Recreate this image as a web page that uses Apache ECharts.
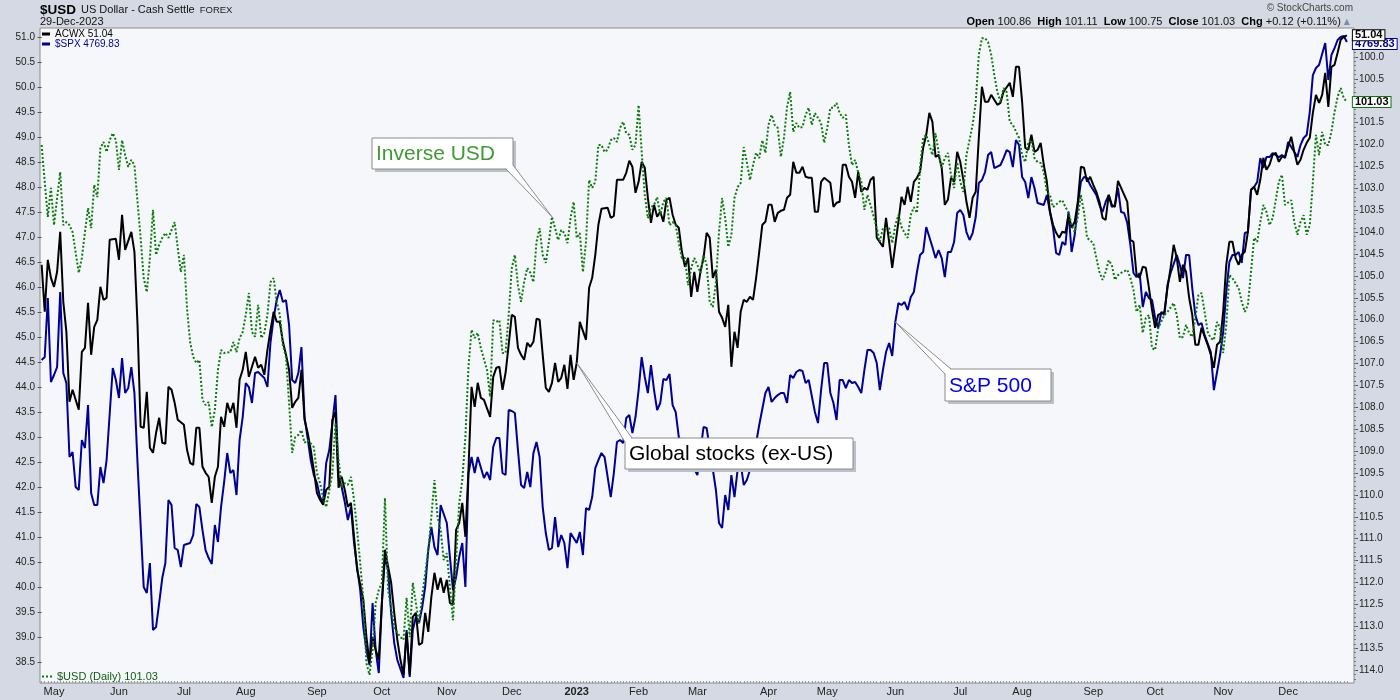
<!DOCTYPE html>
<html>
<head>
<meta charset="utf-8">
<title>$USD vs ACWX vs $SPX</title>
<script src="https://cdn.jsdelivr.net/npm/echarts@6.0.0/dist/echarts.min.js"></script>
<style>
  html, body { margin: 0; padding: 0; background: #d5d9e3; }
  #main { width: 1400px; height: 700px; }
</style>
</head>
<body>
<div id="main"></div>
<script>
// x = trading day (0 = 26-Apr-2022 ... 422 = 29-Dec-2023)
var acwx = [
  [0,46.45],[1,45.51],[2,46.55],[3,46.19],[4,46.01],[5,46.31],[6,47.11],[7,45.71],[8,45.11],[9,43.71],[10,43.95],[11,43.75],[12,43.55],[13,44.71],[14,44.79],[15,45.69],[16,44.65],[17,45.21],[18,45.35],[19,46.01],[20,45.75],[21,45.79],[22,46.95],[24,46.97],[25,46.55],[26,47.45],[27,46.75],[29,47.11],[30,46.71],[31,45.25],[32,43.21],[33,43.19],[34,43.91],[35,42.79],[36,42.69],[37,43.09],[38,43.39],[39,42.89],[40,42.87],[41,44.01],[42,43.95],[43,43.69],[44,43.35],
  [46,43.25],[47,42.75],[48,42.49],[49,42.45],[50,43.19],[51,43.19],[52,42.41],[53,42.29],[54,42.21],[55,41.69],[56,42.21],[57,42.41],[58,43.41],[59,43.21],[60,43.69],[61,43.49],[62,43.69],[63,43.19],[64,44.15],[65,44.35],[66,44.71],[67,44.21],[68,44.41],[69,44.61],[70,44.39],[71,44.45],[72,44.25],[73,44.75],[74,45.15],[75,45.51],[76,45.31],[77,45.31],[78,44.91],[79,44.65],[80,44.35],[81,43.59],[82,43.71],[83,43.79],[84,44.35],[85,43.35],[86,43.09],[87,42.75],[88,42.35],[89,41.89],[90,41.75],[91,41.65],[92,41.95],[93,42.01],[94,43.35],[95,43.51],[96,41.99],[97,42.21],[98,41.95],[99,41.61],[100,41.69],[101,41.01],[102,40.35],
  [104,39.75],[105,39.01],[106,38.49],[107,39.01],[108,38.75],[109,38.55],[110,39.69],[111,40.75],[113,40.09],[114,39.49],[115,38.95],[116,38.55],[117,38.25],[118,39.09],[119,38.25],[120,39.41],[121,39.49],[122,38.85],[123,38.89],[124,39.49],[125,39.11],[126,39.81],[127,40.29],[128,39.95],[129,40.19],[130,39.89],[131,40.15],[132,39.69],[133,39.65],[134,41.15],[135,41.29],[136,41.69],[137,41.01],[138,42.35],[139,44.01],[140,43.61],[141,44.09],
  [142,43.79],[143,43.75],[145,43.41],[146,44.21],[147,44.39],[148,44.41],[149,43.95],[150,44.29],[151,44.85],[152,45.45],[153,45.41],[154,44.79],[155,44.65],[156,44.55],[157,44.89],[158,44.81],[159,44.91],[160,45.37],[161,45.35],[162,44.65],[163,43.99],[164,43.91],[165,44.09],[166,44.49],[167,44.11],[168,44.19],[169,44.45],[170,43.97],[171,44.65],[172,44.15],[173,44.49],[174,45.31],[176,44.95],[177,45.99],[178,46.19],[179,46.65],[180,47.25],[181,47.57],[183,47.59],[184,47.39],[185,47.43],[186,48.15],[188,48.15],[189,48.29],[190,48.53],[191,48.41],[192,47.89],[193,48.11],[194,48.51],[195,48.39],[196,47.79],[197,47.29],[198,47.65],[199,47.41],[200,47.51],
  [201,47.31],[202,47.75],[203,47.79],[204,47.45],[205,47.25],[206,47.19],[207,46.71],[208,46.41],[209,46.59],[210,45.81],[211,46.31],[212,45.91],[213,46.31],[214,46.59],[215,47.09],[216,46.99],[217,46.19],[218,46.35],[219,45.51],[220,45.39],[221,45.21],[222,45.65],[223,44.41],[224,45.11],[225,44.79],[226,45.51],[227,45.75],[228,45.71],[229,45.81],[230,45.75],[231,46.19],[232,46.71],[233,47.25],[234,47.31],[235,47.65],[236,47.65],[237,47.31],[238,47.49],[239,47.53],[240,47.55],[241,47.79],[242,47.85],[243,48.51],[244,48.29],[245,48.29],[246,48.41],[247,48.21],[248,48.19],[249,48.19],[250,47.51],[251,47.51],[252,48.11],[253,48.19],[255,48.09],[256,47.61],[257,47.69],[258,47.71],[259,48.45],[260,48.45],[261,48.21],[262,48.11],[263,47.79],[264,48.31],[265,47.91],[266,47.99],[267,47.95],[268,48.15],[269,48.21],[270,46.99],[272,46.81],[273,47.39],[274,46.91],[275,46.39],[277,47.31],[278,47.81],[279,47.65],[280,48.01],[281,47.71],[282,48.11],[283,48.19],
  [284,48.31],[285,48.79],[286,49.05],[287,49.49],[288,49.31],[289,48.61],[290,48.65],[291,48.39],[292,47.65],[293,47.75],[294,48.19],[295,48.11],[296,48.71],[297,48.51],[298,48.15],[299,47.71],[300,47.39],[301,47.79],[302,47.91],[303,48.99],[304,50.01],[305,49.71],[306,49.71],[307,49.85],[309,49.65],[310,49.69],[311,49.91],[313,50.09],[314,49.81],[315,50.41],[316,50.41],[317,49.71],[318,48.79],[319,48.75],[320,49.05],[321,48.71],[322,48.75],[323,48.89],[324,48.45],[325,48.11],[326,47.51],[327,47.25],[328,47.09],[329,46.99],[330,47.11],[331,47.09],[332,47.45],[333,47.19],[334,47.31],[335,47.71],[336,48.41],[337,48.39],[338,48.11],[339,48.21],[340,48.05],[341,47.91],[342,47.71],[343,47.39],[344,47.35],[345,47.85],[346,47.65],[347,47.61],[348,48.13],[349,47.99],[350,47.85],[351,47.71],[352,46.95],[353,46.91],[354,46.25],[355,46.19],[356,46.41],[357,46.39],[358,45.99],[359,45.55],[360,45.19],[361,45.45],[363,45.51],[364,45.99],[365,46.39],[366,46.85],[367,46.59],[368,46.11],[369,46.45],[370,46.31],[371,45.79],[372,45.45],[373,44.85],[374,44.85],[375,45.19],[377,44.85],[378,44.65],[379,44.39],[380,44.85],[381,44.91],[382,45.51],
  [383,46.45],[384,46.91],[385,46.91],[386,46.59],[387,46.45],[388,46.65],[389,46.71],[390,47.11],[391,47.95],[392,48.01],[393,47.85],[394,48.15],[395,48.59],[396,48.35],[397,48.45],[398,48.65],[399,48.69],[400,48.51],[401,48.61],[402,48.61],[404,49.01],[405,48.71],[406,48.45],[407,48.55],[408,48.75],[409,48.89],[410,48.99],[411,49.49],[412,49.85],[413,49.69],[414,49.85],[415,50.29],[416,49.61],[417,50.41],[418,50.45],[419,50.69],[420,50.95],[421,51.01],[422,51.04]
];

var spx = [
  [0,4171.5],[1,4177.2],[2,4288.2],[3,4130.1],[4,4143.3],[5,4158.3],[6,4299.5],[7,4147.0],[8,4128.2],[9,3989.0],[10,3998.4],[11,3932.5],[12,3926.9],[13,4021.0],[14,4005.9],[15,4086.8],[16,3921.3],[17,3898.7],[18,3898.7],[19,3970.2],[20,3940.1],[21,3983.3],[23,4156.5],[24,4133.9],[25,4100.0],[26,4175.3],[27,4109.4],[28,4118.8],[29,4158.3],[30,4109.4],[31,3977.7],[33,3744.4],[34,3733.1],[35,3789.5],[36,3663.5],[37,3669.2],[38,3714.3],[39,3761.3],[40,3789.5],[41,3908.1],[42,3898.7],[43,3817.8],[44,3814.0],[45,3782.0],[46,3823.4],[48,3827.2],[49,3842.2],[50,3900.5],
  [51,3894.9],[52,3851.6],[53,3814.0],[54,3798.9],[55,3787.7],[56,3861.0],[57,3829.1],[58,3894.9],[59,3941.9],[60,3996.5],[61,3958.9],[62,3964.5],[63,3917.5],[64,4021.0],[65,4064.2],[66,4128.2],[67,4120.7],[68,4090.6],[69,4147.0],[70,4148.9],[71,4143.3],[72,4137.6],[73,4120.7],[74,4205.4],[75,4250.5],[76,4284.4],[77,4303.2],[78,4280.6],[79,4284.4],[80,4237.3],[81,4133.8],[82,4128.2],[83,4147.0],[84,4195.9],[85,4064.2],[86,4024.7],[87,3983.3],[88,3955.1],[89,3940.1],[90,3913.7],[91,3902.4],[92,3977.7],[93,4002.1],[94,4052.9],[95,4105.6],[96,3951.3],[97,3932.5],[98,3904.3],[99,3870.4],[100,3895.0],
  [101,3827.2],[102,3782.0],[103,3738.7],[104,3669.1],[105,3625.8],[106,3597.6],[107,3714.3],[108,3625.8],[109,3582.6],[110,3714.3],[111,3800.8],[112,3776.4],[113,3695.5],[114,3639.0],[115,3607.0],[117,3573.2],[118,3663.5],[119,3575.0],[120,3663.5],[121,3687.9],[122,3676.6],[123,3704.9],[124,3744.4],[125,3814.0],[126,3857.3],[127,3819.6],[128,3804.6],[129,3898.7],[131,3864.8],[132,3800.8],[133,3738.7],[134,3763.2],[135,3800.8],[136,3827.2],[137,3744.4],[138,3958.9],[139,3989.0],[140,3958.9],[141,3989.0],
  [143,3949.5],[144,3960.8],[145,3945.7],[146,4007.8],[147,4024.7],[148,4024.7],[149,3958.9],[150,3955.1],[151,4077.4],[152,4075.6],[153,4071.8],[154,4002.1],[155,3936.3],[156,3930.7],[157,3960.8],[158,3932.5],[159,3996.5],[160,4017.2],[161,3989.0],[162,3894.9],[163,3846.0],[164,3814.0],[165,3817.8],[166,3876.1],[167,3819.6],[168,3842.2],[169,3827.2],[170,3780.1],[171,3846.0],[172,3836.6],[173,3827.2],[174,3847.9],[175,3804.6],[176,3893.0],[177,3889.3],[178,3913.7],[179,3968.3],[180,3983.3],[181,3996.5],[182,3989.0],[183,3951.3],[184,3913.7],[185,3958.9],[186,4017.2],[187,4021.0],[188,4015.3],[189,4062.4],[190,4068.0],[191,4034.1],[192,4064.2],[193,4115.0],[194,4177.1],[195,4139.5],[196,4109.4],[197,4162.1],[198,4115.0],[199,4077.4],[200,4090.6],
  [201,4135.7],[202,4133.8],[203,4145.1],[204,4086.8],[205,4073.6],[206,4026.6],[212,3955.1],[214,4045.4],[215,4043.6],[218,3926.9],[219,3864.8],[220,3855.4],[221,3917.5],[222,3889.3],[223,3955.1],[224,3913.7],[225,3964.5],[226,3977.7],[227,3936.3],[228,3945.7],[229,3964.5],[230,3989.0],[231,4015.3],[232,4049.2],[234,4109.4],[235,4120.7],[236,4092.5],[237,4100.0],[238,4105.6],[239,4109.4],[240,4109.4],[241,4090.6],[242,4143.3],[243,4137.6],[244,4148.9],[245,4152.7],[246,4150.8],[247,4128.2],[248,4133.8],[250,4073.6],[251,4052.9],[252,4115.0],[253,4165.8],[254,4165.8],[255,4109.4],[256,4090.6],[257,4058.6],[258,4133.8],[259,4133.8],[260,4118.8],[261,4133.8],[262,4128.2],[263,4130.1],[264,4120.7],[265,4109.4],[266,4152.7],[267,4190.3],[268,4190.3],[269,4184.7],[270,4165.8],[271,4115.0],[272,4152.7],[273,4186.5],[274,4203.5],[275,4179.0],[276,4243.0],[277,4278.7],[278,4275.0],[279,4280.6],[280,4265.6],[281,4290.0],[282,4299.5],[283,4337.1],
  [284,4369.0],[285,4374.7],[286,4421.7],[287,4402.9],[288,4384.1],[289,4363.4],[290,4378.4],[291,4363.4],[292,4327.6],[293,4374.7],[294,4374.7],[295,4393.5],[296,4448.1],[297,4453.7],[298,4444.3],[299,4412.3],[300,4397.3],[301,4410.4],[302,4440.5],[303,4504.5],[304,4510.2],[305,4525.2],[306,4557.2],[307,4562.8],[308,4532.7],[310,4538.4],[311,4551.5],[312,4566.6],[313,4562.8],[314,4534.6],[315,4585.4],[316,4576.0],[317,4515.8],[318,4506.4],[319,4476.3],[320,4515.8],[321,4495.1],[322,4466.9],[324,4463.1],[325,4481.9],[326,4449.9],[327,4419.8],[328,4372.8],[329,4369.1],[330,4393.5],[331,4387.9],[332,4449.9],[333,4374.7],[334,4406.7],[335,4463.1],[336,4506.4],[337,4515.8],[338,4513.9],[339,4500.7],[341,4481.9],[342,4463.1],[343,4449.9],[344,4468.8],[345,4481.9],[346,4459.4],[347,4463.1],[348,4495.1],[349,4449.9],[350,4448.1],
  [351,4429.2],[352,4387.9],[353,4335.2],[354,4327.6],[355,4335.2],[356,4271.2],[357,4299.4],[358,4288.1],[359,4284.4],[360,4250.5],[361,4231.7],[362,4261.8],[363,4256.2],[364,4312.6],[365,4335.2],[367,4369.1],[368,4350.2],[369,4325.8],[370,4369.1],[371,4369.1],[372,4307.0],[373,4256.2],[374,4237.3],[375,4241.1],[376,4218.5],[378,4186.5],[379,4115.0],[381,4180.9],[382,4224.2],[383,4299.4],[384,4355.9],[385,4369.1],[386,4369.1],[387,4374.7],[388,4354.0],[389,4410.4],[390,4412.3],[391,4491.3],[392,4497.0],[393,4506.4],[394,4551.5],[395,4532.7],[396,4553.4],[397,4553.4],[398,4561.0],[400,4553.4],[401,4557.2],[402,4551.5],[403,4581.6],[404,4572.2],[405,4562.8],[406,4553.4],[407,4576.0],[408,4589.2],[409,4594.8],[410,4638.1],[411,4707.7],[412,4720.9],[413,4726.5],[415,4767.9],[416,4698.3],[417,4745.4],[418,4758.5],[419,4773.6],[420,4779.2],[421,4781.1],[422,4769.83]
];

var usd = [
  [0,102.01],[1,102.85],[2,103.65],[3,102.99],[4,103.84],[5,103.22],[6,102.63],[7,103.84],[8,103.77],[9,103.84],[10,104.00],[12,104.93],[13,104.59],[14,104.00],[15,103.45],[16,103.91],[17,102.92],[18,103.20],[19,102.08],[20,101.94],[21,102.17],[22,101.90],[23,101.74],[24,101.90],[25,102.58],[26,101.90],[27,102.24],[28,102.51],[29,102.35],[30,102.47],[31,103.31],[32,104.13],[33,105.05],[34,105.37],[35,104.59],[36,103.49],[37,104.52],[38,104.29],[39,104.13],[40,104.02],[41,104.13],[42,103.95],[43,103.77],[44,104.36],[45,104.91],[46,104.52],[47,105.73],[48,106.51],[49,106.85],[50,106.99],
  [51,106.92],[52,107.83],[53,107.95],[54,107.88],[55,108.45],[56,108.06],[57,107.15],[58,106.69],[59,106.76],[61,106.74],[62,106.51],[63,106.74],[64,106.42],[65,106.28],[66,105.89],[67,105.39],[68,106.28],[69,106.39],[70,105.66],[71,106.42],[72,106.30],[73,105.89],[74,105.14],[75,105.05],[76,105.59],[77,105.89],[78,106.58],[79,106.85],[80,107.90],[81,109.04],[82,108.68],[83,108.63],[84,108.52],[85,108.81],[86,108.75],[88,108.91],[89,109.50],[90,109.73],[91,110.05],[92,110.28],[93,109.89],[94,109.50],[95,108.36],[96,109.20],[97,109.82],[98,109.73],[99,109.77],[100,109.59],
  [101,110.12],[102,110.80],[103,111.56],[104,112.40],[105,113.84],[106,114.11],[107,113.54],[108,112.47],[109,112.17],[110,112.01],[111,110.07],[112,112.17],[114,113.02],[115,113.15],[116,113.25],[117,113.31],[118,112.35],[119,113.25],[120,112.01],[121,112.47],[122,112.93],[123,112.33],[125,111.26],[126,110.50],[127,109.66],[128,110.50],[129,110.80],[130,111.49],[131,111.33],[133,112.86],[134,111.49],[135,110.19],[136,109.66],[137,108.68],[138,107.08],[139,106.23],[140,106.42],[141,106.30],
  [142,106.65],[144,107.15],[145,107.76],[146,106.01],[147,106.05],[148,106.01],[149,106.76],[150,106.76],[151,105.89],[152,104.82],[153,104.52],[154,105.21],[155,105.59],[156,105.14],[157,104.82],[158,104.93],[159,105.14],[160,104.22],[161,103.91],[162,104.52],[163,104.70],[164,104.22],[165,103.65],[166,103.91],[167,104.18],[168,103.95],[169,104.02],[170,104.25],[171,103.68],[172,103.31],[173,104.13],[174,104.02],[175,104.91],[176,104.22],[177,102.81],[178,102.99],[179,102.85],[180,102.01],[181,102.01],[182,102.17],[183,102.12],[184,101.90],[185,101.85],[186,101.94],[187,101.62],[188,101.48],[189,101.74],[190,101.78],[191,102.12],[192,102.01],[193,101.10],[194,102.17],[195,103.15],[196,103.68],[197,103.43],[198,103.38],[199,103.20],[200,103.61],
  [201,103.31],[202,103.22],[203,103.84],[204,103.77],[205,103.84],[206,104.25],[207,104.59],[208,104.59],[209,105.21],[210,104.82],[211,104.59],[212,104.75],[213,104.93],[214,104.52],[215,104.75],[216,105.59],[217,105.71],[218,105.14],[219,104.00],[220,103.22],[221,103.68],[222,104.34],[223,104.06],[224,103.22],[225,102.97],[226,102.88],[227,102.06],[228,102.40],[229,102.81],[230,102.47],[231,102.19],[232,102.31],[233,101.90],[234,102.19],[235,101.55],[236,101.32],[237,101.55],[238,101.62],[239,102.28],[240,101.85],[241,101.14],[242,100.80],[243,101.71],[244,101.51],[245,101.62],[246,101.60],[247,101.32],[248,101.16],[249,101.55],[250,101.28],
  [251,101.39],[252,101.51],[253,101.96],[254,101.62],[255,101.16],[256,101.16],[257,101.05],[258,101.28],[259,101.39],[260,101.32],[261,102.01],[262,102.47],[263,102.35],[264,102.63],[265,102.85],[266,103.49],[267,103.15],[268,103.38],[270,103.91],[271,104.22],[272,103.91],[274,103.91],[275,104.25],[276,103.84],[277,103.61],[278,103.88],[279,104.02],[280,104.13],[281,103.61],[282,103.43],[283,103.56],
  [284,102.53],[285,101.85],[286,101.78],[287,102.01],[288,102.24],[289,101.74],[290,102.17],[291,102.53],[292,102.31],[293,102.19],[294,102.69],[295,102.99],[296,102.40],[297,102.85],[298,103.08],[299,102.24],[301,101.55],[302,101.03],[303,99.95],[304,99.57],[305,99.57],[306,99.66],[307,99.95],[308,100.41],[309,100.80],[310,101.03],[311,100.71],[312,100.80],[313,101.48],[314,101.55],[316,101.85],[317,102.24],[318,102.40],[319,101.94],[320,101.90],[321,102.31],[322,102.40],[323,102.42],[324,102.63],[325,103.08],[326,103.15],[327,103.43],[329,103.31],[330,103.27],[331,103.43],[332,103.54],[333,103.84],[334,104.00],[335,103.65],[336,103.15],[337,103.54],[338,104.13],[340,104.25],[341,104.59],[342,104.91],[343,105.09],[344,104.91],[345,104.64],[346,104.75],[347,105.09],[348,104.98],[349,104.93],
  [351,104.86],[352,105.05],[353,105.32],[354,105.82],[355,105.66],[356,106.30],[357,105.96],[358,105.89],[359,106.65],[360,106.69],[361,106.19],[363,105.89],[364,105.82],[366,105.62],[367,105.89],[368,106.42],[369,106.39],[370,106.12],[371,106.30],[372,106.39],[373,105.96],[374,105.44],[375,105.39],[376,105.82],[377,106.28],[378,106.42],[379,106.46],[380,106.05],[381,106.19],[382,106.76],[383,106.12],[384,104.98],[385,105.05],[387,105.28],[388,105.59],[389,105.82],[390,105.66],[391,104.91],[392,104.13],[393,104.22],[394,103.77],[395,103.38],[396,103.54],[397,103.84],[398,103.68],[399,103.27],[400,102.85],
  [401,102.69],[402,103.38],[404,103.27],[405,103.77],[406,104.06],[407,103.77],[408,103.61],[409,104.06],[410,103.84],[411,102.85],[412,101.78],[413,102.24],[414,101.71],[415,102.01],[416,102.01],[417,101.71],[418,101.26],[419,100.91],[420,100.71],[421,100.94],[422,101.03]
];

// first trading day of each month and its label
var monthDay  = [4, 25, 46, 66, 89, 110, 131, 152, 173, 193, 212, 235, 254, 276, 297, 317, 340, 360, 382, 403];
var monthName = ['May', 'Jun', 'Jul', 'Aug', 'Sep', 'Oct', 'Nov', 'Dec', '2023', 'Feb', 'Mar', 'Apr', 'May', 'Jun', 'Jul', 'Aug', 'Sep', 'Oct', 'Nov', 'Dec'];

// tick labels
var acwxTicks = [38.5, 39, 39.5, 40, 40.5, 41, 41.5, 42, 42.5, 43, 43.5, 44, 44.5, 45, 45.5, 46, 46.5, 47, 47.5, 48, 48.5, 49, 49.5, 50, 50.5, 51];
var usdTicks = [100, 100.5, 101, 101.5, 102, 102.5, 103, 103.5, 104, 104.5, 105, 105.5, 106, 106.5, 107, 107.5, 108, 108.5, 109, 109.5, 110, 110.5, 111, 111.5, 112, 112.5, 113, 113.5, 114];

var quote = [['Open', '100.86'], ['High', '101.11'], ['Low', '100.75'], ['Close', '101.03'], ['Chg', '+0.12 (+0.11%)']];

var FONT = 'Liberation Sans';
var GREEN = '#0a7a0a', NAVY = '#000096';

// small ticks: one per trading day along the bottom, 0.1 steps on the right
var dayTicks = [];
for (var d = 0; d <= 422; d++) dayTicks.push(d);
var usdMinor = [];
for (var k = 994; k <= 1142; k++) usdMinor.push(k / 10);

function last(s) { return s[s.length - 1][1]; }
var lastText = { 'ACWX': last(acwx).toFixed(2), '$SPX': last(spx).toFixed(2), '$USD (Daily)': last(usd).toFixed(2) };

function endLabel(color, border, dy) {
  return {
    show: true, distance: 6, offset: [0, dy],
    formatter: function (p) { return p.value[1].toFixed(2); },
    color: color, fontFamily: FONT, fontSize: 11, fontWeight: 'bold',
    backgroundColor: '#fff', borderColor: border, borderWidth: 1,
    padding: [0, 2, 0, 2], lineHeight: 10
  };
}

var quoteText = quote.map(function (q) { return '{b|' + q[0] + '} ' + q[1]; }).join('  ') + ' {t|▲}';

var chart = echarts.init(document.getElementById('main'));

var option = {
  animation: false,
  backgroundColor: '#d5d9e3',
  textStyle: { fontFamily: FONT },
  title: [
    {
      left: 40, top: 1, padding: 0,
      text: '{a|$USD} {b|US Dollar - Cash Settle} {c|FOREX}',
      textStyle: {
        fontWeight: 'normal',
        rich: {
          a: { fontSize: 13.5, fontWeight: 'bold', color: '#000', fontFamily: FONT },
          b: { fontSize: 11, fontWeight: 'normal', color: '#111', fontFamily: FONT },
          c: { fontSize: 9.5, fontWeight: 'normal', color: '#222', fontFamily: FONT }
        }
      }
    },
    { left: 40, top: 16, padding: 0, text: '29-Dec-2023', textStyle: { fontSize: 11, fontWeight: 'normal', color: '#111', fontFamily: FONT } },
    { right: 47, top: 3, padding: 0, text: '© StockCharts.com', textStyle: { fontSize: 10, fontWeight: 'normal', color: '#444', fontFamily: FONT } },
    {
      right: 50, top: 16, padding: 0, text: quoteText,
      textStyle: {
        fontSize: 11, fontWeight: 'normal', color: '#111', fontFamily: FONT,
        rich: {
          b: { fontSize: 11, fontWeight: 'bold', color: '#000', fontFamily: FONT },
          t: { fontSize: 8, color: '#7f8ea8', fontFamily: 'DejaVu Sans' }
        }
      }
    }
  ],
  legend: [
    {
      left: 42, top: 29, orient: 'vertical', padding: 0, itemGap: 0,
      itemWidth: 8, itemHeight: 3, icon: 'rect', selectedMode: false,
      data: [{ name: 'ACWX', textStyle: { color: '#000' } }, { name: '$SPX', textStyle: { color: NAVY } }],
      formatter: function (n) { return n + ' ' + lastText[n]; },
      textStyle: { fontSize: 10, lineHeight: 10, fontFamily: FONT }
    },
    {
      left: 42, bottom: 18, padding: 0, itemWidth: 10, itemHeight: 2, selectedMode: false,
      icon: 'path://M0,0h2v2h-2zM4,0h2v2h-2zM8,0h2v2h-2z',
      data: [{ name: '$USD (Daily)', textStyle: { color: '#0b5e0b' } }],
      formatter: function (n) { return n + ' ' + lastText[n]; },
      textStyle: { fontSize: 11, lineHeight: 11, fontFamily: FONT }
    }
  ],
  grid: {
    left: 40, right: 46, top: 28, bottom: 17, show: true,
    backgroundColor: '#f6f7fb', borderColor: '#8c8c8c', borderWidth: 1
  },
  xAxis: {
    type: 'value', min: -0.53, max: 424.3,
    axisLine: { show: false },
    splitLine: { show: false },
    axisTick: { show: true, inside: true, length: 2, customValues: dayTicks, lineStyle: { color: '#9a9a9a', width: 1 } },
    axisLabel: {
      customValues: monthDay, margin: 3, color: '#222', fontSize: 11, fontFamily: FONT,
      formatter: function (v) {
        var i = monthDay.indexOf(v);
        return monthName[i] === '2023' ? '{y|2023}' : monthName[i];
      },
      rich: { y: { fontWeight: 'bold', fontSize: 11, color: '#222', fontFamily: FONT } }
    }
  },
  yAxis: [
    {
      type: 'value', position: 'left', min: 38.086, max: 51.186,
      axisLine: { show: false }, splitLine: { show: false },
      axisTick: { show: true, length: 4, customValues: acwxTicks, lineStyle: { color: '#555' } },
      axisLabel: { customValues: acwxTicks, margin: 5, fontSize: 10, color: '#222', fontFamily: FONT, formatter: function (v) { return v.toFixed(1); } }
    },
    {
      type: 'value', position: 'right', inverse: true, min: 99.338, max: 114.296,
      axisLine: { show: false }, splitLine: { show: false },
      axisTick: { show: true, length: 4, customValues: usdTicks, lineStyle: { color: '#555' } },
      axisLabel: { customValues: usdTicks, margin: 5, fontSize: 10, color: '#222', fontFamily: FONT, formatter: function (v) { return v.toFixed(1); } }
    },
    { type: 'value', show: false, min: 3563.8, max: 4796.2 },
    {
      type: 'value', position: 'right', inverse: true, min: 99.338, max: 114.296,
      axisLine: { show: false }, splitLine: { show: false }, axisLabel: { show: false },
      axisTick: { show: true, length: 2, customValues: usdMinor, lineStyle: { color: '#777' } }
    }
  ],
  series: [
    {
      name: '$SPX', type: 'line', yAxisIndex: 2, data: spx, symbol: 'none', z: 2,
      itemStyle: { color: NAVY }, lineStyle: { color: NAVY, width: 2 },
      endLabel: endLabel(NAVY, NAVY, 2)
    },
    {
      name: 'ACWX', type: 'line', yAxisIndex: 0, data: acwx, symbol: 'none', z: 3,
      itemStyle: { color: '#000' }, lineStyle: { color: '#000', width: 2 },
      endLabel: endLabel('#000', '#000', 0)
    },
    {
      name: '$USD (Daily)', type: 'line', yAxisIndex: 1, data: usd, symbol: 'none', z: 4,
      itemStyle: { color: GREEN }, lineStyle: { color: GREEN, width: 2, type: [2, 2] },
      endLabel: endLabel('#000', GREEN, 0)
    }
  ]
};

chart.setOption(option);

// callout boxes; the tail tip sits on the series at the given trading day
var notes = [
  { text: 'Inverse USD', color: '#3f9a34', box: [372, 138, 141, 31], base: [[506, 169], [513, 165]], series: 2, data: usd, day: 165 },
  { text: 'Global stocks (ex-US)', color: '#000', box: [625, 438, 228, 31], base: [[625, 442], [632, 438]], series: 1, data: acwx, day: 173 },
  { text: 'S&P 500', color: '#0000f0', box: [945, 369, 106, 32], base: [[945, 374], [951, 369]], series: 0, data: spx, day: 276 }
];

var els = [];
notes.forEach(function (n) {
  var pt = n.data.filter(function (p) { return p[0] === n.day; })[0];
  var tip = chart.convertToPixel({ seriesIndex: n.series }, pt);
  var b = n.box;
  var pts = [n.base[0], tip, n.base[1]];
  els.push({ type: 'rect', z: 100, shape: { x: b[0] + 3, y: b[1] + 3, width: b[2], height: b[3] }, style: { fill: '#bcc0c8' } });
  els.push({ type: 'rect', z: 101, shape: { x: b[0], y: b[1], width: b[2], height: b[3] }, style: { fill: '#fff', stroke: '#8a8a8a', lineWidth: 1 } });
  els.push({ type: 'polygon', z: 102, shape: { points: pts }, style: { fill: '#fff' } });
  els.push({ type: 'polyline', z: 103, shape: { points: pts }, style: { stroke: '#8a8a8a', lineWidth: 1, fill: 'none' } });
  els.push({
    type: 'text', z: 104, x: b[0] + 4, y: b[1] + b[3] / 2 + 1,
    style: { text: n.text, fill: n.color, fontSize: 21, fontFamily: FONT, verticalAlign: 'middle', textVerticalAlign: 'middle' }
  });
});
chart.setOption({ graphic: els });
</script>
</body>
</html>
